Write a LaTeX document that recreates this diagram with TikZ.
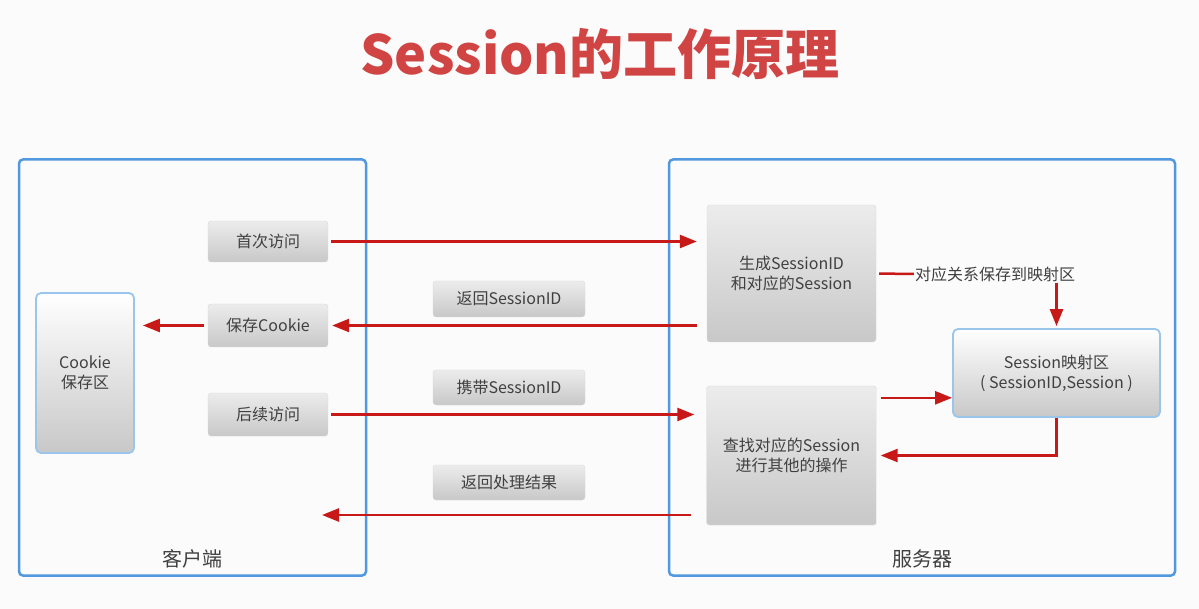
\documentclass[tikz,border=0pt]{standalone}
\usepackage{fontspec}
\setmainfont{Noto Sans CJK SC}
\usetikzlibrary{arrows.meta}
\definecolor{pagebg}{RGB}{250,251,250}
\definecolor{frameblue}{RGB}{82,152,222}
\definecolor{lightblue}{RGB}{155,198,236}
\definecolor{arrowred}{RGB}{200,25,25}
\definecolor{titlered}{RGB}{208,68,68}
\definecolor{txtgray}{RGB}{64,64,64}
\definecolor{boxtop}{RGB}{236,236,236}
\definecolor{boxbot}{RGB}{200,200,200}
\definecolor{boxline}{RGB}{218,218,218}
\begin{document}
\begin{tikzpicture}[x=1pt, y=-1pt,
	every node/.style={text=txtgray, font=\fontsize{16}{20}\selectfont},
	frame/.style={draw=frameblue, line width=2.5pt, rounded corners=4pt, inner sep=0pt},
	graybox/.style={draw=boxline, rounded corners=3pt, top color=boxtop, bottom color=boxbot, inner sep=0pt, align=center},
	bluebox/.style={draw=lightblue, line width=1.8pt, rounded corners=5pt, top color=white, bottom color=boxbot, inner sep=0pt, align=center},
	link/.style={draw=arrowred, line width=2.5pt},
	arr/.style={link, -{Triangle[length=17pt,width=13pt]}}]
	\fill[pagebg] (0, 0) rectangle (1199, 609);
	\node[text=titlered, font=\fontsize{54}{58}\selectfont\bfseries, anchor=base] at (600, 75) (title) {Session的工作原理};
	\node[frame, minimum width=347pt, minimum height=416pt] at (192.5, 367.5) (client) {};
	\node[frame, minimum width=506pt, minimum height=416pt] at (922, 367.5) (server) {};
	\node[font=\fontsize{20}{24}\selectfont] at (192, 559) (clientlbl) {客户端};
	\node[font=\fontsize{20}{24}\selectfont] at (922, 559) (serverlbl) {服务器};
	\node[bluebox, minimum width=98pt, minimum height=160pt] at (85, 373) (cookie) {Cookie\\保存区};
	\node[graybox, minimum width=120pt, minimum height=41pt] at (268, 241.5) (first) {首次访问};
	\node[graybox, minimum width=120pt, minimum height=43pt] at (268, 325.5) (save) {保存Cookie};
	\node[graybox, minimum width=120pt, minimum height=43pt] at (268, 414.5) (later) {后续访问};
	\node[graybox, minimum width=152pt, minimum height=36pt] at (509, 299) (retid) {返回SessionID};
	\node[graybox, minimum width=152pt, minimum height=35pt] at (509, 387.5) (carryid) {携带SessionID};
	\node[graybox, minimum width=152pt, minimum height=35pt] at (509, 482.5) (retres) {返回处理结果};
	\node[graybox, minimum width=169pt, minimum height=137pt] at (791.5, 273.5) (gen) {生成SessionID\\和对应的Session};
	\node[graybox, minimum width=170pt, minimum height=139pt] at (791.5, 455.5) (find) {查找对应的Session\\进行其他的操作};
	\node[bluebox, minimum width=207pt, minimum height=88pt] at (1056.5, 373) (map) {Session映射区\\(\ SessionID,Session\ )};
	\node[inner sep=1pt] at (995, 274) (rel) {对应关系保存到映射区};
	\coordinate (back) at (322, 515);
	\draw[arr, shorten <=3pt, shorten >=10pt] (first.east) -- (first -| gen.west);
	\draw[arr, shorten <=10pt, shorten >=4pt] (gen.west |- save) -- (save.east);
	\draw[arr, shorten <=4pt, shorten >=8pt] (save.west) -- (cookie.east |- save);
	\draw[arr, shorten <=3pt, shorten >=12pt] (later.east) -- (later -| find.west);
	\draw[arr, shorten <=15pt] (find.west |- back) -- (back);
	\draw[link, shorten <=3pt] (gen.east) -- (rel.west);
	\draw[arr, shorten >=2pt] (map |- rel.south) -- (map.north);
	\draw[arr, shorten <=4pt] ([yshift=-12pt]find.north east) coordinate (fm) -- (map.west |- fm);
	\draw[arr, shorten >=4pt] (map.south) |- (find.east);
\end{tikzpicture}
\end{document}
